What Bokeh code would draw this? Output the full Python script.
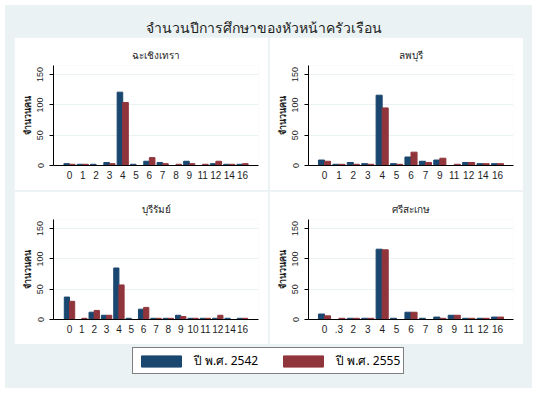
from bokeh.plotting import figure
from bokeh.layouts import column, row
from bokeh.models import (ColumnDataSource, Range1d, Legend, LegendItem, Spacer,
                          FixedTicker)
from bokeh.transform import dodge
from bokeh.core.properties import value
from bokeh.embed import file_html
from bokeh.resources import INLINE

# ---------------- data ----------------
title_text = "จำนวนปีการศึกษาของหัวหน้าครัวเรือน"
y_label = "จำนวนคน"
series_names = ["ปี พ.ศ. 2542", "ปี พ.ศ. 2555"]

prov_1 = "ฉะเชิงเทรา"
cats_1 = ["0", "1", "2", "3", "4", "5", "6", "7", "8", "9", "11", "12", "14", "16"]
y2542_1 = [3, 2, 2, 5, 121, 2, 7, 5, 0, 7, 0, 3, 2, 2]
y2555_1 = [2, 2, 0, 3, 104, 0, 13, 3, 2, 3, 2, 7, 2, 3]

prov_2 = "ลพบุรี"
cats_2 = ["0", "1", "2", "3", "4", "5", "6", "7", "9", "11", "12", "14", "16"]
y2542_2 = [9, 2, 5, 3, 116, 3, 14, 7, 9, 0, 5, 3, 3]
y2555_2 = [7, 2, 2, 2, 95, 2, 22, 5, 12, 2, 5, 3, 3]

prov_3 = "บุรีรัมย์"
cats_3 = ["0", "1", "2", "3", "4", "5", "6", "7", "8", "9", "10", "11", "12", "14", "16"]
y2542_3 = [37, 0, 12, 7, 85, 2, 17, 2, 2, 7, 2, 2, 2, 2, 2]
y2555_3 = [30, 2, 15, 7, 57, 0, 20, 2, 2, 5, 2, 2, 7, 0, 2]

prov_4 = "ศรีสะเกษ"
cats_4 = ["0", ".3", "2", "3", "4", "5", "6", "7", "8", "9", "11", "12", "16"]
y2542_4 = [9, 0, 2, 2, 116, 2, 12, 2, 4, 7, 2, 2, 4]
y2555_4 = [6, 2, 2, 2, 115, 0, 12, 0, 2, 7, 2, 2, 4]

y_ticks = [0, 50, 100, 150]

# ---------------- style ----------------
BG = "#eaf2f3"
NAVY = "#1a476f"
MAROON = "#90353b"
TXT = "#1e1e1e"
NUM_FONT = "Liberation Sans"
THAI_FONT = "Noto Sans"

PW, PH = 254, 153
BL, BR, BT, BB = 39, 10, 28, 25
SIDE = 9
W = SIDE + PW + 1 + PW + SIDE      # 527
TH, LH = 32, 44                    # title strip / legend strip heights


def panel(name, cats, a, b):
    n = len(cats)
    frame_w = PW - BL - BR
    step = (frame_w - 32) / (n - 1)
    pad = 16 / step
    src = ColumnDataSource(dict(x=list(range(n)), a=a, b=b))
    p = figure(width=PW, height=PH, x_range=Range1d(-pad, n - 1 + pad),
               y_range=Range1d(0, 165), output_backend="svg",
               toolbar_location=None, title=name,
               min_border_left=BL, min_border_right=BR,
               min_border_top=BT, min_border_bottom=BB)
    p.vbar(x=dodge("x", -0.21, range=p.x_range), top="a", width=0.42,
           source=src, fill_color=NAVY, line_color=NAVY)
    p.vbar(x=dodge("x", 0.21, range=p.x_range), top="b", width=0.42,
           source=src, fill_color=MAROON, line_color=MAROON)
    p.outline_line_color = None
    p.background_fill_color = "white"
    p.border_fill_color = "white"
    p.xgrid.visible = False
    p.ygrid.grid_line_color = BG
    p.ygrid.grid_line_width = 1
    p.ygrid.ticker = FixedTicker(ticks=y_ticks)

    p.title.align = "center"
    p.title.text_font = THAI_FONT
    p.title.text_font_size = "10px"
    p.title.text_font_style = "normal"
    p.title.text_color = TXT
    p.title.standoff = 8

    xa = p.xaxis[0]
    xa.ticker = FixedTicker(ticks=list(range(n)))
    xa.major_label_overrides = {i: c for i, c in enumerate(cats)}
    xa.major_tick_line_color = None
    xa.major_tick_out = 0
    xa.major_tick_in = 0
    xa.minor_tick_line_color = None
    xa.minor_tick_out = 0
    xa.major_label_standoff = 5
    xa.major_label_text_font = NUM_FONT
    xa.major_label_text_font_size = "10px"
    xa.major_label_text_color = TXT
    xa.axis_line_color = "black"

    ya = p.yaxis[0]
    ya.ticker = FixedTicker(ticks=y_ticks)
    ya.major_label_orientation = "vertical"
    ya.major_tick_out = 4
    ya.major_tick_in = 0
    ya.minor_tick_line_color = None
    ya.major_label_standoff = 6
    ya.major_label_text_font = NUM_FONT
    ya.major_label_text_font_size = "9px"
    ya.major_label_text_color = TXT
    ya.axis_label = y_label
    ya.axis_label_text_font = THAI_FONT
    ya.axis_label_text_font_size = "9px"
    ya.axis_label_text_font_style = "bold"
    ya.axis_label_text_color = TXT
    ya.axis_label_standoff = 1
    ya.axis_line_color = "black"
    return p


p1 = panel(prov_1, cats_1, y2542_1, y2555_1)
p2 = panel(prov_2, cats_2, y2542_2, y2555_2)
p3 = panel(prov_3, cats_3, y2542_3, y2555_3)
p4 = panel(prov_4, cats_4, y2542_4, y2555_4)

# title strip
tf = figure(width=W, height=TH, x_range=Range1d(0, 1), y_range=Range1d(0, 1),
            output_backend="svg", toolbar_location=None, min_border=0,
            title=None, x_axis_location=None, y_axis_location=None)
tf.text(x=[0.49], y=[0.3], text=[title_text], text_align="center",
        text_baseline="middle", text_font=value(THAI_FONT),
        text_font_size="14px", text_color=TXT)
tf.grid.visible = False
tf.outline_line_color = None
tf.background_fill_color = BG
tf.border_fill_color = BG

# legend strip
lf = figure(width=W, height=LH, x_range=Range1d(0, 1), y_range=Range1d(0, 1),
            output_backend="svg", toolbar_location=None, min_border=0,
            title=None, x_axis_location=None, y_axis_location=None)
r1 = lf.vbar(x=[0.5], top=[0], width=0, fill_color=NAVY, line_color=NAVY)
r2 = lf.vbar(x=[0.5], top=[0], width=0, fill_color=MAROON, line_color=MAROON)
lf.grid.visible = False
lf.outline_line_color = None
lf.background_fill_color = BG
lf.border_fill_color = BG
leg = Legend(items=[LegendItem(label=series_names[0], renderers=[r1]),
                    LegendItem(label=series_names[1], renderers=[r2])],
             orientation="horizontal", location=(127, 14),
             glyph_width=50, glyph_height=14, label_height=14,
             padding=3, spacing=20, label_standoff=8, margin=0,
             border_line_color="black", border_line_width=1,
             background_fill_color="white", background_fill_alpha=1,
             label_text_font=THAI_FONT, label_text_font_size="12px",
             label_text_line_height=1.0,
             label_text_color="black")
lf.add_layout(leg)


def sp(w, h):
    return Spacer(width=w, height=h, styles={"background-color": BG})


inner = column(
    tf,
    row(sp(SIDE, PH), p1, sp(1, PH), p2, sp(SIDE, PH)),
    sp(W, 1),
    row(sp(SIDE, PH), p3, sp(1, PH), p4, sp(SIDE, PH)),
    lf,
    styles={"background-color": BG},
)

layout = column(Spacer(width=W + 5, height=5),
                 row(Spacer(width=5, height=TH + 2 * PH + 1 + LH), inner))

open("out.html", "w").write(file_html(layout, INLINE))
